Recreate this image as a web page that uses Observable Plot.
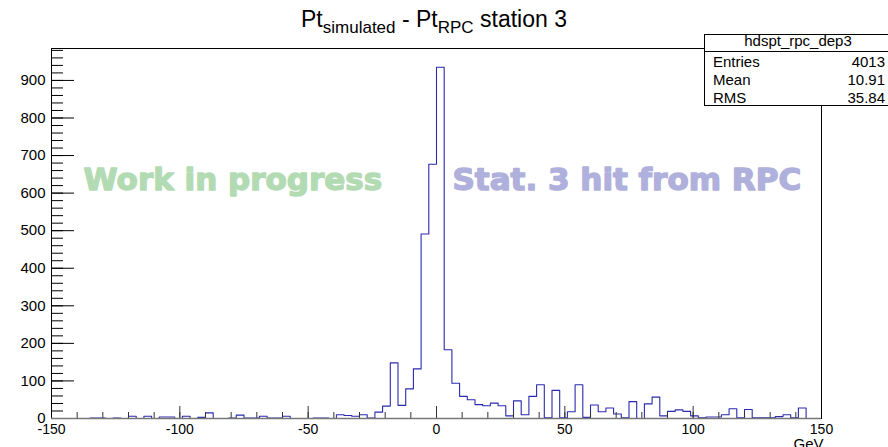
<!DOCTYPE html>
<html>
<head>
<meta charset="utf-8">
<script src="https://cdn.jsdelivr.net/npm/d3@7"></script>
<script src="https://cdn.jsdelivr.net/npm/@observablehq/plot@0.6"></script>
<style>
  html, body { margin: 0; padding: 0; background: white; overflow: hidden; }
  #wrap { position: relative; width: 888px; height: 447px; overflow: hidden; font-family: 'Liberation Sans', Arial, sans-serif; }
  #title { position: absolute; left: 0; top: 8px; width: 868px; text-align: center; font-size: 23px; line-height: 23px; color: #000; white-space: nowrap; }
  #title .sub { font-size: 17px; position: relative; top: 6px; }
  #stats { position: absolute; left: 704px; top: 34px; width: 188px; height: 72px; border: 1px solid #000; background: #fff; box-sizing: border-box; }
  #stats .sep { position: absolute; left: 0; right: 0; top: 16px; border-top: 1px solid #000; }
  #stats .t { position: absolute; font-size: 15px; line-height: 15px; white-space: nowrap; color: #000; }
</style>
</head>
<body>
<div id="wrap">
  <div id="chart"></div>
  <div id="title">Pt<span class="sub">simulated</span> - Pt<span class="sub">RPC</span> station 3</div>
  <div id="stats"></div>
</div>
<script>
// ---- data ----
const histName = "hdspt_rpc_dep3";
const statLabels = ["Entries", "Mean", "RMS"];
const statValues = ["4013", "10.91", "35.84"];
const xMin = -150;
const binWidth = 3;
// 100 bins, [-150,150), width 3
const counts = [
  0, 0, 0, 0, 0, 1, 1, 0, 1, 0,          // -150 .. -123
  6, 0, 6, 0, 4, 4, 0, 6, 0, 3,          // -120 .. -93
  15, 0, 0, 1, 9, 1, 1, 6, 1, 1,         // -90 .. -63
  6, 0, 0, 0, 1, 1, 0, 10, 8, 6,         // -60 .. -33
  10, 1, 17, 33, 148, 35, 79, 132, 491, 677, // -30 .. -3
  935, 183, 94, 59, 50, 37, 34, 41, 34, 7,   // 0 .. 27
  47, 10, 59, 90, 2, 75, 2, 18, 90, 3,   // 30 .. 57
  36, 18, 28, 12, 2, 45, 0, 39, 57, 7,   // 60 .. 87
  19, 23, 19, 7, 2, 4, 4, 10, 26, 2,     // 90 .. 117
  24, 2, 2, 2, 5, 10, 2, 28, 0, 0        // 120 .. 147
];
const xMajorTicks = [-150, -100, -50, 0, 50, 100, 150];
const xMinorTicks = [-150,-140,-130,-120,-110,-100,-90,-80,-70,-60,-50,-40,-30,-20,-10,0,10,20,30,40,50,60,70,80,90,100,110,120,130,140,150];
const yMajorTicks = [0, 100, 200, 300, 400, 500, 600, 700, 800, 900];
const yMinorTicks = [0,20,40,60,80,100,120,140,160,180,200,220,240,260,280,300,320,340,360,380,400,420,440,460,480,500,520,540,560,580,600,620,640,660,680,700,720,740,760,780,800,820,840,860,880,900,920,940,960,980];
const xDomain = [-150, 150];
const yDomain = [0, 985];
const xUnit = "GeV";
const watermarks = ["Work in progress", "Stat. 3 hit from RPC"];

// ---- build step data ----
const hist = counts.map((c, i) => ({x: xMin + i * binWidth, y: c}));
hist.push({x: xMin + counts.length * binWidth, y: counts[counts.length - 1]});

// ---- layout ----
const W = 888, H = 447;
const mL = 51, mR = 67, mT = 48, mB = 29;
const frameW = W - mL - mR, frameH = H - mT - mB;

const chart = Plot.plot({
  width: W,
  height: H,
  marginLeft: mL,
  marginRight: mR,
  marginTop: mT,
  marginBottom: mB,
  style: {fontFamily: "'Liberation Sans', Arial, sans-serif", fontSize: "14px", background: "white", color: "black", overflow: "visible"},
  x: {domain: xDomain},
  y: {domain: yDomain},
  marks: [
    // watermarks
    Plot.text([watermarks[0]], {frameAnchor: "top-left", dx: 32, dy: 141, lineAnchor: "bottom", textAnchor: "start",
      fontFamily: "'DejaVu Sans', sans-serif", fontWeight: "bold", fontSize: 31, fill: "#b3dbb3",
      stroke: "#b3dbb3", strokeWidth: 1.4}),
    Plot.text([watermarks[1]], {frameAnchor: "top-left", dx: 401, dy: 141, lineAnchor: "bottom", textAnchor: "start",
      fontFamily: "'DejaVu Sans', sans-serif", fontWeight: "bold", fontSize: 31, fill: "#b0b0dc",
      stroke: "#b0b0dc", strokeWidth: 1.4}),
    // histogram outline
    Plot.line(hist, {x: "x", y: "y", curve: "step-after", stroke: "#2a2aae", strokeWidth: 1.1}),
    // ticks (inward, ROOT style)
    Plot.tickX(xMinorTicks, {x: d => d, insetTop: frameH - 6, stroke: "#333", strokeWidth: 1}),
    Plot.tickX(xMajorTicks, {x: d => d, insetTop: frameH - 12, stroke: "#333", strokeWidth: 1}),
    Plot.tickY(yMinorTicks, {y: d => d, insetRight: frameW - 12, stroke: "#000", strokeWidth: 1}),
    Plot.tickY(yMajorTicks, {y: d => d, insetRight: frameW - 23, stroke: "#000", strokeWidth: 1}),
    // frame
    Plot.frame({stroke: "#000", strokeWidth: 1}),
    Plot.ruleY([0], {stroke: "#777", strokeWidth: 1.5}),
    // tick labels
    Plot.axisY({ticks: yMajorTicks, tickSize: 0, tickPadding: 6, fontSize: 15, label: null, tickFormat: d => String(d)}),
    Plot.axisX({ticks: xMajorTicks, tickSize: 0, tickPadding: 6, fontSize: 14, label: null, tickFormat: d => String(d)}),
    // axis unit title
    Plot.text([xUnit], {frameAnchor: "bottom-right", dx: 2, dy: 20, lineAnchor: "top", textAnchor: "end", fontSize: 15})
  ]
});
document.getElementById("chart").appendChild(chart);

// ---- stats box ----
const stats = document.getElementById("stats");
const boxLeft = 704, boxTop = 34;
function addText(txt, left, top, align) {
  const d = document.createElement("div");
  d.className = "t";
  d.textContent = txt;
  d.style.top = (top - boxTop - 1) + "px";
  if (align === "right") { d.style.right = (892 - left - 1) + "px"; }
  else if (align === "center") { d.style.left = "0"; d.style.right = "0"; d.style.textAlign = "center"; }
  else { d.style.left = (left - boxLeft - 1) + "px"; }
  stats.appendChild(d);
}
const sep = document.createElement("div"); sep.className = "sep"; stats.appendChild(sep);
addText(histName, 0, 32.5, "center");
const rowTops = [54, 72, 89.5];
statLabels.forEach((lab, i) => {
  addText(lab, 713, rowTops[i], "left");
  addText(statValues[i], 885, rowTops[i], "right");
});
</script>
</body>
</html>
